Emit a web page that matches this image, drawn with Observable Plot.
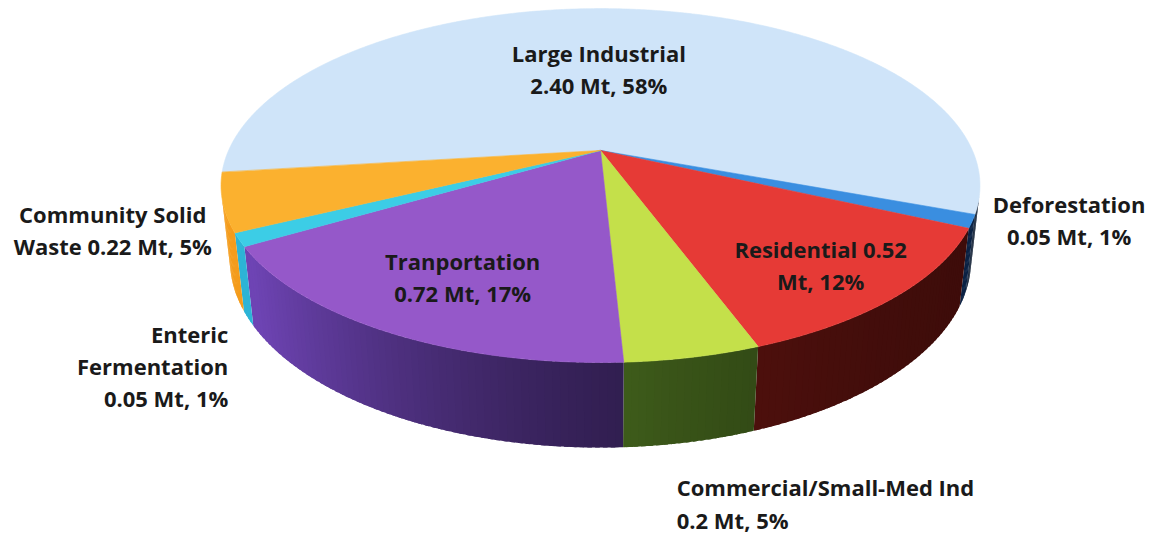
<!DOCTYPE html>
<html>
<head>
<meta charset="utf-8">
<script src="https://cdn.jsdelivr.net/npm/d3@7"></script>
<script src="https://cdn.jsdelivr.net/npm/@observablehq/plot@0.6"></script>
<style>
  html, body { margin: 0; padding: 0; background: #ffffff; }
  #chart { width: 1149px; height: 535px; }
</style>
</head>
<body>
<div id="chart"></div>
<script>
// Emission sources (Mt CO2e), in clockwise order around the pie
const sectors = [
  "Large Industrial",
  "Deforestation",
  "Residential",
  "Commercial/Small-Med Ind",
  "Tranportation",
  "Enteric Fermentation",
  "Community Solid Waste"
];
const emissions = [2.40, 0.05, 0.52, 0.2, 0.72, 0.05, 0.22];
const labelText = [
  "Large Industrial\n2.40 Mt, 58%",
  "Deforestation\n0.05 Mt, 1%",
  "Residential 0.52\nMt, 12%",
  "Commercial/Small-Med Ind\n0.2 Mt, 5%",
  "Tranportation\n0.72 Mt, 17%",
  "Enteric\nFermentation\n0.05 Mt, 1%",
  "Community Solid\nWaste 0.22 Mt, 5%"
];

// Slice styling: top face colour and base colour of the outer wall
const topColors  = ["#cfe4f9", "#3a8ee0", "#e63a36", "#c4e04a", "#9558c9", "#3ccde6", "#fbb12f"];
const sideColors = ["#5a8ad0", "#2675ea", "#d32a22", "#8bcd3b", "#6e44b4", "#2db4d6", "#f49c1c"];

// Label placement: radius on the disc (1 = rim), pixel nudge, text anchor
const labelLayout = [
  {r: 0.52,  dx: -22,  dy: -3,  anchor: "middle"},
  {r: 1.0,   dx: 97,   dy: -3,  anchor: "middle"},
  {r: 0.818, dx: -14,  dy: -3,  anchor: "middle"},
  {r: 1.0,   dx: -16,  dy: 145, anchor: "start"},
  {r: 0.749, dx: 14,   dy: -4,  anchor: "middle"},
  {r: 1.0,   dx: -11,  dy: 125, anchor: "end"},
  {r: 1.0,   dx: -110, dy: 26,  anchor: "middle"}
];

const W = 1149, H = 535;

// Perspective camera looking down on a disc of radius 1
const view = {
  cx: 600, cy: 150,          // screen position of the pie centre
  focal: 1670,
  distance: 4.49,
  elevation: 27.2 * Math.PI / 180,
  thickness: 0.227,
  firstAngle: 262.8 * Math.PI / 180
};
const se = Math.sin(view.elevation), ce = Math.cos(view.elevation);

function project(px, pz, py = 0) {
  const depth = view.distance + pz * ce - py * se;
  const up = py * ce + pz * se;
  return [view.cx + view.focal * px / depth, view.cy - view.focal * up / depth];
}
const rim = (a, r = 1, py = 0) => project(r * Math.sin(a), r * Math.cos(a), py);

const arcs = d3.pie().sort(null).value(d => d)
  .startAngle(view.firstAngle).endAngle(view.firstAngle + 2 * Math.PI)(emissions);

const step = Math.PI / 360;

// Top faces: apex plus the rim arc of each slice
const topFaces = [];
arcs.forEach((arc, i) => {
  const [ax, ay] = project(0, 0);
  topFaces.push({id: i, x: ax, y: ay, color: topColors[i]});
  const n = Math.max(2, Math.ceil((arc.endAngle - arc.startAngle) / step));
  for (let k = 0; k <= n; k++) {
    const a = arc.startAngle + (arc.endAngle - arc.startAngle) * k / n;
    const [x, y] = rim(a);
    topFaces.push({id: i, x, y, color: topColors[i]});
  }
});

// Outer wall: only the part that faces the camera, in overlapping strips
const limit = Math.acos(-1 / (view.distance * ce));
const visible = [[limit, 2 * Math.PI - limit], [limit + 2 * Math.PI, 4 * Math.PI - limit]];
const shade = x => Math.min(1, 0.22 + 0.78 * Math.exp(-(x - 250) / 300));
const wallStep = Math.PI / 180;

const walls = [];
let strip = 0;
arcs.forEach((arc, i) => {
  for (const [v0, v1] of visible) {
    const lo = Math.max(arc.startAngle, v0), hi = Math.min(arc.endAngle, v1);
    if (hi <= lo) continue;
    const n = Math.max(1, Math.ceil((hi - lo) / wallStep));
    for (let k = 0; k < n; k++) {
      const a0 = lo + (hi - lo) * k / n;
      const a1 = Math.min(hi, lo + (hi - lo) * (k + 1.6) / n);
      const pts = [];
      const m = 4;
      for (let j = 0; j <= m; j++) pts.push(rim(a0 + (a1 - a0) * j / m));
      for (let j = m; j >= 0; j--) pts.push(rim(a0 + (a1 - a0) * j / m, 1, -view.thickness));
      const mx = (pts[0][0] + pts[m][0]) / 2;
      const color = d3.interpolateRgb("#000000", sideColors[i])(shade(mx));
      for (const [x, y] of pts) walls.push({id: strip, x, y, color});
      strip++;
    }
  }
});

// Label anchors from each slice's mid angle
const labels = arcs.map((arc, i) => {
  const mid = (arc.startAngle + arc.endAngle) / 2;
  const L = labelLayout[i];
  const [x, y] = rim(mid, L.r);
  return {x: x + L.dx, y: y + L.dy, text: labelText[i], anchor: L.anchor};
});

const textStyle = {
  x: "x", y: "y", text: "text",
  lineAnchor: "middle", lineHeight: 1.46,
  fontSize: 22, fontWeight: "bold", fontFamily: "'Open Sans', Lato, sans-serif",
  fill: "#1a1a1a"
};

const chart = Plot.plot({
  width: W, height: H,
  margin: 0,
  x: {domain: [0, W], range: [0, W], axis: null},
  y: {domain: [0, H], range: [0, H], axis: null},
  color: {type: "identity"},
  style: {background: "#ffffff", overflow: "visible"},
  marks: [
    Plot.line(walls, {x: "x", y: "y", z: "id", fill: "color", curve: "linear-closed"}),
    Plot.line(topFaces, {x: "x", y: "y", z: "id", fill: "color", stroke: "color", strokeWidth: 0.6, curve: "linear-closed"}),
    Plot.text(labels.filter(d => d.anchor === "middle"), {...textStyle, textAnchor: "middle"}),
    Plot.text(labels.filter(d => d.anchor === "start"), {...textStyle, textAnchor: "start"}),
    Plot.text(labels.filter(d => d.anchor === "end"), {...textStyle, textAnchor: "end"})
  ]
});
document.getElementById("chart").append(chart);
</script>
</body>
</html>
